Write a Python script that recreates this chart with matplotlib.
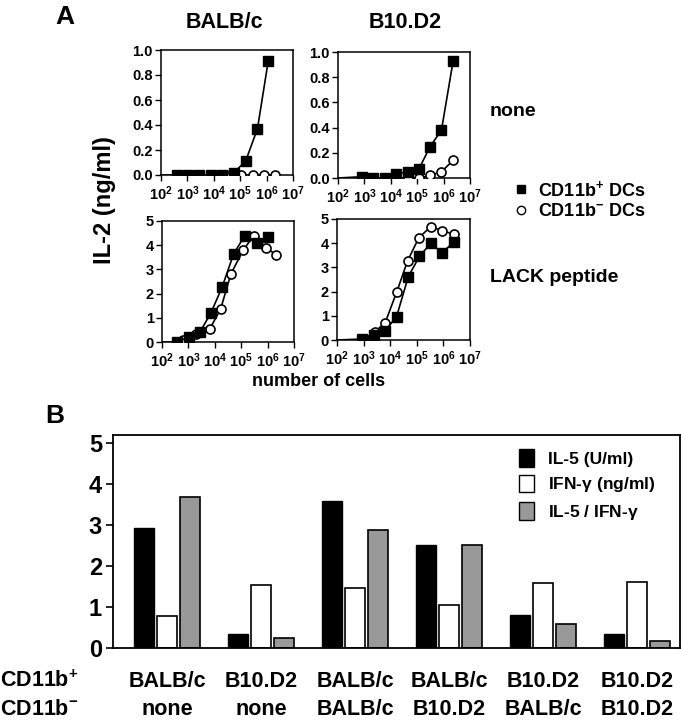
import matplotlib
matplotlib.use('Agg')
import matplotlib.pyplot as plt
from matplotlib.lines import Line2D
from matplotlib.patches import Patch
from matplotlib.transforms import blended_transform_factory

# ---- panel A data (cells, IL-2 ng/ml); first square point only starts the line
balbc_none_sq_x = [100, 390, 1070, 2800, 7600, 21000, 58000, 160000, 450000, 1150000]
balbc_none_sq_y = [0.0, 0.0, 0.0, 0.0, 0.0, 0.0, 0.02, 0.11, 0.37, 0.91]
balbc_none_ci_x = [41000, 112000, 310000, 780000, 2000000]
balbc_none_ci_y = [0.0, 0.0, 0.0, 0.0, 0.0]

b10_none_sq_x = [100, 780, 2200, 5900, 15500, 44000, 115000, 310000, 830000, 2300000]
b10_none_sq_y = [0.0, 0.01, 0.0, 0.0, 0.03, 0.05, 0.07, 0.25, 0.38, 0.93]
b10_none_ci_x = [15500, 44000, 115000, 310000, 830000, 2300000]
b10_none_ci_y = [0.0, 0.0, 0.0, 0.02, 0.05, 0.14]

balbc_lack_sq_x = [100, 370, 1020, 2700, 7100, 19000, 52000, 138000, 410000, 1070000]
balbc_lack_sq_y = [0.0, 0.0, 0.2, 0.4, 1.2, 2.27, 3.65, 4.4, 4.1, 4.35]
balbc_lack_ci_x = [630, 2000, 6500, 16500, 41000, 120000, 300000, 870000, 2100000]
balbc_lack_ci_y = [0.1, 0.33, 0.55, 1.35, 2.82, 3.8, 4.4, 3.9, 3.6]

b10_lack_sq_x = [100, 890, 2450, 6500, 17400, 48000, 126000, 340000, 890000, 2450000]
b10_lack_sq_y = [0.0, 0.04, 0.22, 0.38, 0.97, 2.62, 3.46, 4.0, 3.6, 4.05]
b10_lack_ci_x = [1000, 2600, 6500, 17400, 45000, 120000, 340000, 890000, 2450000]
b10_lack_ci_y = [0.04, 0.33, 0.72, 1.97, 3.27, 4.23, 4.69, 4.51, 4.38]

x_ticks = [1e2, 1e3, 1e4, 1e5, 1e6, 1e7]
x_ticklabels = ['$10^{%d}$' % e for e in range(2, 8)]

# ---- panel B data
groups_top = ['BALB/c', 'B10.D2', 'BALB/c', 'BALB/c', 'B10.D2', 'B10.D2']
groups_bottom = ['none', 'none', 'BALB/c', 'B10.D2', 'BALB/c', 'B10.D2']
il5 = [2.94, 0.34, 3.58, 2.52, 0.80, 0.34]
ifng = [0.79, 1.54, 1.46, 1.04, 1.58, 1.60]
ratio = [3.68, 0.24, 2.87, 2.52, 0.59, 0.17]

plt.rcParams['font.family'] = ['Liberation Sans', 'DejaVu Sans']
plt.rcParams['font.weight'] = 'bold'
plt.rcParams['mathtext.fontset'] = 'custom'
plt.rcParams['mathtext.rm'] = 'Liberation Sans:bold'
plt.rcParams['mathtext.it'] = 'Liberation Sans:bold'
plt.rcParams['mathtext.bf'] = 'Liberation Sans:bold'
plt.rcParams['mathtext.default'] = 'rm'

W, H = 681, 720
fig = plt.figure(figsize=(W / 100, H / 100), dpi=100)


def ax_px(left, top, right, bottom):
    return fig.add_axes([left / W, 1 - bottom / H, (right - left) / W, (bottom - top) / H])


def small_panel(ax, sq_x, sq_y, ci_x, ci_y, ymax, yticks, ylabels):
    ax.plot(ci_x, ci_y, '-', color='black', lw=1.2, zorder=2)
    ax.plot(ci_x, ci_y, 'o', mfc='white', mec='black', mew=1.2, ms=6.5, zorder=3)
    ax.plot(sq_x, sq_y, '-', color='black', lw=1.2, zorder=4)
    ax.plot(sq_x[1:], sq_y[1:], 's', color='black', ms=7, zorder=5)
    ax.set_xscale('log')
    ax.set_xlim(1e2, 1e7)
    ax.set_ylim(0, ymax)
    ax.set_xticks(x_ticks)
    ax.set_xticklabels(x_ticklabels)
    ax.minorticks_off()
    ax.set_yticks(yticks)
    ax.set_yticklabels(ylabels)
    ax.tick_params(axis='y', labelsize=10.5, length=4, width=1, pad=2)
    ax.tick_params(axis='x', labelsize=10.5, length=4, width=1, pad=3)
    for s in ax.spines.values():
        s.set_linewidth(1.1)


ax1 = ax_px(161, 50, 293, 175)
small_panel(ax1, balbc_none_sq_x, balbc_none_sq_y, balbc_none_ci_x, balbc_none_ci_y,
            1.0, [0, 0.2, 0.4, 0.6, 0.8, 1.0], ['0.0', '0.2', '0.4', '0.6', '0.8', '1.0'])
ax2 = ax_px(338, 52, 470, 178)
small_panel(ax2, b10_none_sq_x, b10_none_sq_y, b10_none_ci_x, b10_none_ci_y,
            1.0, [0, 0.2, 0.4, 0.6, 0.8, 1.0], ['0.0', '0.2', '0.4', '0.6', '0.8', '1.0'])
ax3 = ax_px(162, 221, 294, 342)
small_panel(ax3, balbc_lack_sq_x, balbc_lack_sq_y, balbc_lack_ci_x, balbc_lack_ci_y,
            5, [0, 1, 2, 3, 4, 5], ['0', '1', '2', '3', '4', '5'])
ax4 = ax_px(337, 219, 470, 340)
small_panel(ax4, b10_lack_sq_x, b10_lack_sq_y, b10_lack_ci_x, b10_lack_ci_y,
            5, [0, 1, 2, 3, 4, 5], ['0', '1', '2', '3', '4', '5'])

fig.text(65 / W, 1 - 17 / H, 'A', fontsize=19, ha='center', va='center')
fig.text(224 / W, 1 - 23 / H, 'BALB/c', fontsize=15.5, ha='center', va='center')
fig.text(405 / W, 1 - 23 / H, 'B10.D2', fontsize=15.5, ha='center', va='center')
fig.text(104 / W, 1 - 200 / H, 'IL-2 (ng/ml)', fontsize=17, rotation=90, ha='center', va='center')
fig.text(319 / W, 1 - 382 / H, 'number of cells', fontsize=13, ha='center', va='center')
fig.text(490 / W, 1 - 111 / H, 'none', fontsize=14, ha='left', va='center')
fig.text(490 / W, 1 - 278 / H, 'LACK peptide', fontsize=14, ha='left', va='center')

handles_a = [Line2D([], [], ls='none', marker='s', color='black', ms=6),
             Line2D([], [], ls='none', marker='o', mfc='white', mec='black', ms=6)]
fig.legend(handles_a, ['CD11b$^{+}$ DCs', 'CD11b$^{-}$ DCs'], loc='center left',
           bbox_to_anchor=(505 / W, 1 - 200 / H), frameon=False, fontsize=13,
           handlelength=0.8, handletextpad=0.5, labelspacing=0.2, borderpad=0)

# ---- panel B
axb = ax_px(113, 435, 680, 648)
pos = list(range(len(il5)))
w = 0.22
off = 0.245
axb.bar([p - off for p in pos], il5, width=w, color='black', edgecolor='black', lw=1)
axb.bar(pos, ifng, width=w, color='white', edgecolor='black', lw=1.2)
axb.bar([p + off for p in pos], ratio, width=w, color='#999999', edgecolor='black', lw=1.2)
axb.set_xlim(-0.574, 5.457)
axb.set_ylim(0, 5.2)
axb.set_yticks([0, 1, 2, 3, 4, 5])
axb.set_yticklabels(['0', '1', '2', '3', '4', '5'])
axb.set_xticks([])
axb.tick_params(axis='y', labelsize=17, length=5, width=1.2, pad=3)
for s in axb.spines.values():
    s.set_linewidth(1.3)

# group labels: two rows under each group, baselines in figure pixels
row1_base = 1 - 687 / H
row2_base = 1 - 715 / H
trans = blended_transform_factory(axb.transData, fig.transFigure)
for p, t, b in zip(pos, groups_top, groups_bottom):
    axb.text(p, row1_base, t, transform=trans, ha='center', va='baseline', fontsize=15.5)
    axb.text(p, row2_base, b, transform=trans, ha='center', va='baseline', fontsize=15.5)

handles_b = [Patch(facecolor='black', edgecolor='black'),
             Patch(facecolor='white', edgecolor='black'),
             Patch(facecolor='#999999', edgecolor='black')]
axb.legend(handles_b, ['IL-5 (U/ml)', 'IFN-$\\gamma$ (ng/ml)', 'IL-5 / IFN-$\\gamma$'],
           loc='upper left', bbox_to_anchor=(0.70, 0.975), frameon=False, fontsize=12.5,
           handlelength=0.9, handleheight=1.2, handletextpad=0.8, labelspacing=0.45, borderpad=0)

fig.text(55 / W, 1 - 416 / H, 'B', fontsize=19, ha='center', va='center')
fig.text(0, row1_base, 'CD11b$^{+}$', fontsize=15.5, ha='left', va='baseline')
fig.text(0, row2_base, 'CD11b$^{-}$', fontsize=15.5, ha='left', va='baseline')

fig.savefig('out.png', dpi=100)
